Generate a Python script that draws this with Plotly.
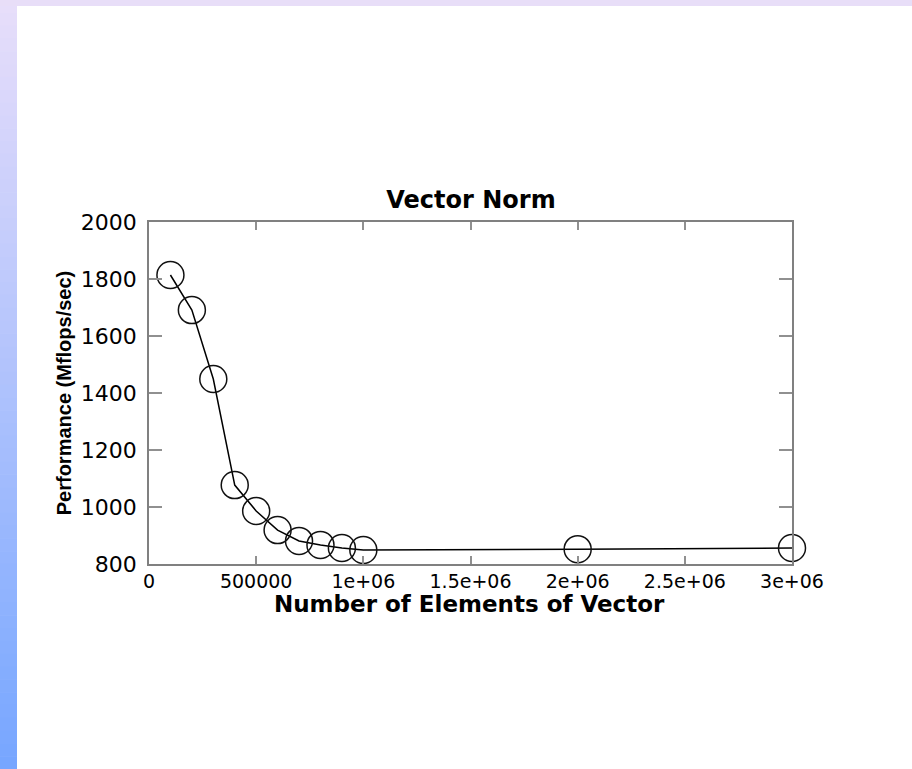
import plotly.graph_objects as go

# ---- data ----
n_elements = [100000, 200000, 300000, 400000, 500000, 600000, 700000, 800000, 900000, 1000000, 2000000, 3000000]
mflops = [1814, 1691, 1449, 1077, 986, 919, 881, 867, 856, 849, 852, 856]

x_tickvals = [0, 500000, 1000000, 1500000, 2000000, 2500000, 3000000]
x_ticktext = ["0", "500000", "1e+06", "1.5e+06", "2e+06", "2.5e+06", "3e+06"]
y_tickvals = [800, 1000, 1200, 1400, 1600, 1800, 2000]
y_ticktext = ["800", "1000", "1200", "1400", "1600", "1800", "2000"]

W, H = 912, 769
L, R, T, B = 149, 120, 222, 205
PW = W - L - R
PH = H - T - B

fig = go.Figure()
fig.add_trace(go.Scatter(
    x=n_elements, y=mflops, mode="lines+markers",
    line=dict(color="black", width=1.5),
    marker=dict(symbol="circle-open", size=27, color="#111111", line=dict(width=1.5, color="#111111")),
    cliponaxis=False, showlegend=False,
))

# decorative slide background: gradient strip on the left, lavender strip on top
shapes = []
nb = 60
top_c = (232, 222, 250)
bot_c = (118, 166, 255)
for i in range(nb):
    t = (i + 0.5) / nb
    c = tuple(int(round(top_c[k] + (bot_c[k] - top_c[k]) * t)) for k in range(3))
    ytop = i * H / nb
    ybot = (i + 1) * H / nb + 0.6
    shapes.append(dict(
        type="rect", xref="paper", yref="paper", layer="below",
        x0=(0 - L) / PW, x1=(17 - L) / PW,
        y0=(H - B - ybot) / PH, y1=(H - B - ytop) / PH,
        fillcolor="rgb(%d,%d,%d)" % c, line=dict(width=0),
    ))
shapes.append(dict(
    type="rect", xref="paper", yref="paper", layer="below",
    x0=(0 - L) / PW, x1=(W - L) / PW,
    y0=(H - B - 6) / PH, y1=(H - B - 0) / PH,
    fillcolor="rgb(232,222,248)", line=dict(width=0),
))

fig.update_layout(
    width=W, height=H,
    margin=dict(l=L, r=R, t=T, b=B, pad=0),
    paper_bgcolor="white", plot_bgcolor="white",
    shapes=shapes,
    title=dict(text="<b>Vector Norm</b>", x=471 / W, xanchor="center",
               y=1 - 208 / H, yanchor="bottom",
               font=dict(family="DejaVu Sans", size=24, color="black")),
    font=dict(family="DejaVu Sans", color="black"),
    annotations=[dict(
        text="<b>Number of Elements of Vector</b>", xref="paper", yref="paper",
        x=(469 - L) / PW, xanchor="center",
        y=(H - B - 589) / PH, yanchor="top", showarrow=False,
        font=dict(family="DejaVu Sans", size=23, color="black"),
    )],
)
fig.update_xaxes(
    range=[0, 3000000], tickmode="array", tickvals=x_tickvals, ticktext=x_ticktext,
    showgrid=False, zeroline=False, showline=True, linecolor="#808080", linewidth=1.5,
    mirror="ticks", ticks="inside", ticklen=8, tickwidth=1.5, tickcolor="#909090",
    tickfont=dict(family="DejaVu Sans", size=19, color="black"),
    ticklabelstandoff=-1,
    automargin=False,
)
fig.update_yaxes(
    range=[800, 2000], tickmode="array", tickvals=y_tickvals, ticktext=y_ticktext,
    showgrid=False, zeroline=False, showline=True, linecolor="#808080", linewidth=1.5,
    mirror="ticks", ticks="inside", ticklen=13, tickwidth=1.5, tickcolor="#909090",
    tickfont=dict(family="DejaVu Sans", size=22, color="black"),
    ticklabelstandoff=6,
    title=dict(text="<b>Performance (Mflops/sec)</b>", standoff=4,
               font=dict(family="Liberation Sans", size=20, color="black")),
    automargin=False,
)

fig.write_html("out.html")
